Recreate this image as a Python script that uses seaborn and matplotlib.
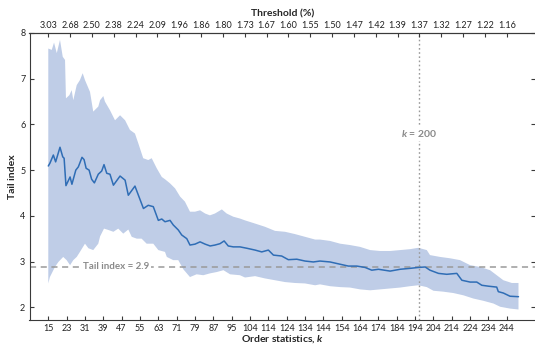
import numpy as np
import matplotlib
matplotlib.use("Agg")
import matplotlib.pyplot as plt
import seaborn as sns
import pandas as pd

# ---- data ----
# x = position along the order-statistics axis (0 -> k=15, 200 -> k=244)
mid_x = [0, 0.7, 2.2, 3.2, 5.1, 6.3, 6.9, 7.7, 9.5, 10.3, 12.0, 13.1, 14.7, 15.6, 16.5,
         17.8, 18.9, 20.1, 21.8, 23.3, 24.3, 25.5, 26.9, 28.4, 31.3, 33.5, 34.9, 37.8,
         39.3, 41.5, 43.6, 45.8, 48.0, 49.5, 50.9, 53.1, 54.5, 56.7, 58.2, 60.4, 61.8,
         64.0, 66.2, 68.4, 70.6, 72.7, 74.9, 76.7, 78.5, 80.7, 83.6, 86.6, 90.2, 93.1,
         96.0, 98.2, 101.8, 104.7, 108.4, 112.0, 115.6, 118.5, 122.9, 127.3, 130.9,
         134.6, 138.2, 141.1, 144.0, 149.1, 153.5, 157.8, 161.4, 164.4, 166.5, 170.2,
         173.8, 178.2, 180.4, 184.0, 186.9, 189.1, 192.0, 195.6, 196.3, 198.5, 201.4, 205.1]
mid_y = [5.09, 5.15, 5.33, 5.18, 5.50, 5.29, 5.26, 4.66, 4.85, 4.69, 5.00, 5.07, 5.28, 5.23,
         5.04, 5.00, 4.80, 4.72, 4.91, 4.98, 5.12, 4.93, 4.91, 4.67, 4.87, 4.78, 4.45, 4.65,
         4.45, 4.16, 4.23, 4.20, 3.90, 3.93, 3.87, 3.90, 3.80, 3.69, 3.58, 3.50, 3.36, 3.38,
         3.43, 3.38, 3.34, 3.36, 3.39, 3.45, 3.34, 3.32, 3.32, 3.29, 3.25, 3.21, 3.25, 3.14,
         3.12, 3.04, 3.05, 3.01, 2.99, 3.01, 2.99, 2.94, 2.90, 2.90, 2.87, 2.81, 2.83, 2.79,
         2.83, 2.85, 2.87, 2.88, 2.81, 2.74, 2.72, 2.74, 2.59, 2.55, 2.55, 2.48, 2.46, 2.44,
         2.34, 2.31, 2.24, 2.23]

upper_x = [0, 1.5, 2.5, 3.7, 5.1, 6.3, 7.3, 7.7, 9.2, 10.2, 10.9, 12.4, 13.8, 15.0, 16.0,
           18.2, 19.6, 21.8, 22.6, 24.0, 24.7, 26.9, 29.1, 31.3, 33.5, 35.6, 37.8, 39.3,
           41.4, 43.6, 45.1, 47.3, 49.5, 50.9, 53.1, 55.3, 57.5, 59.6, 61.8, 64.0, 66.2,
           68.4, 70.5, 72.7, 75.7, 77.8, 80.7, 83.6, 85.8, 90.2, 94.5, 98.9, 103.3, 107.6,
           112.0, 116.4, 118.5, 122.9, 127.3, 131.6, 136.0, 140.4, 144.7, 149.1, 153.5,
           157.8, 161.4, 165.1, 166.5, 170.9, 175.3, 179.6, 184.0, 188.4, 192.7, 195.6,
           198.5, 202.2, 205.1]
upper_y = [7.66, 7.63, 7.79, 7.56, 7.85, 7.48, 7.41, 6.57, 6.64, 6.75, 6.53, 6.86, 6.97,
           7.12, 6.97, 6.71, 6.28, 6.39, 6.53, 6.62, 6.50, 6.31, 6.09, 6.20, 6.09, 5.88,
           5.80, 5.58, 5.26, 5.22, 5.26, 5.04, 4.85, 4.80, 4.71, 4.60, 4.42, 4.31, 4.09,
           4.09, 4.12, 4.05, 4.01, 4.05, 4.14, 4.05, 3.98, 3.94, 3.90, 3.83, 3.76, 3.67,
           3.65, 3.60, 3.54, 3.48, 3.48, 3.45, 3.39, 3.36, 3.32, 3.25, 3.23, 3.23, 3.25,
           3.27, 3.30, 3.25, 3.14, 3.10, 3.07, 3.03, 2.92, 2.88, 2.81, 2.70, 2.59, 2.53, 2.53]

lower_x = [0, 0.7, 2.9, 4.4, 6.5, 8.0, 9.5, 10.9, 12.4, 13.8, 16.0, 17.5, 19.6, 21.8, 22.6,
           24.3, 26.2, 28.4, 30.5, 32.7, 34.9, 36.4, 38.6, 40.7, 42.9, 45.8, 48.0, 50.9,
           51.7, 54.5, 56.7, 58.9, 61.8, 64.7, 67.6, 70.5, 73.5, 76.4, 79.3, 83.6, 85.8,
           90.2, 94.5, 98.9, 103.3, 107.6, 112.0, 116.4, 118.5, 122.9, 127.3, 131.6, 136.0,
           140.4, 144.7, 149.1, 153.5, 157.8, 161.4, 165.1, 168.0, 172.3, 176.7, 181.1,
           185.4, 189.8, 194.2, 197.1, 201.4, 205.1]
lower_y = [2.52, 2.66, 2.88, 2.99, 3.10, 3.03, 2.92, 3.03, 3.10, 3.21, 3.39, 3.29, 3.25,
           3.39, 3.55, 3.72, 3.69, 3.65, 3.72, 3.61, 3.70, 3.54, 3.50, 3.50, 3.39, 3.39,
           3.25, 3.21, 3.10, 3.03, 3.03, 2.83, 2.66, 2.72, 2.70, 2.74, 2.77, 2.81, 2.72,
           2.70, 2.65, 2.68, 2.63, 2.59, 2.55, 2.53, 2.52, 2.48, 2.50, 2.46, 2.44, 2.43,
           2.39, 2.37, 2.39, 2.41, 2.43, 2.46, 2.48, 2.44, 2.36, 2.34, 2.31, 2.26, 2.19,
           2.14, 2.08, 2.01, 1.97, 1.95]

k_labels = [15, 23, 31, 39, 47, 55, 63, 71, 79, 87, 95, 104, 114, 124, 134, 144, 154,
            164, 174, 184, 194, 204, 214, 224, 234, 244]
threshold_labels = ["3.03", "2.68", "2.50", "2.38", "2.24", "2.09", "1.96", "1.86", "1.80",
                    "1.73", "1.67", "1.60", "1.55", "1.50", "1.47", "1.42", "1.39", "1.37",
                    "1.32", "1.27", "1.22", "1.16"]
tail_ref = 2.88
k_ref_pos = 161.6

# ---- style ----
sns.set_style("ticks")
FAM = "Lato"
plt.rcParams["font.family"] = [FAM, "DejaVu Sans"]
plt.rcParams["mathtext.fontset"] = "custom"
plt.rcParams["mathtext.it"] = FAM + ":bold:italic"
plt.rcParams["mathtext.rm"] = FAM + ":bold"

band_color = "#bfcde7"
line_color = "#2f6db5"
ref_gray = "#9a9a9a"
text_gray = "#8a8a8a"
axis_color = "#3a3a3a"

fig = plt.figure(figsize=(5.35, 3.44), dpi=100)
ax = fig.add_axes([29.5 / 535, 1 - 320 / 344, 1 - 29.5 / 535, (320 - 33) / 344])

# band
ax.fill(np.r_[upper_x, lower_x[::-1]], np.r_[upper_y, lower_y[::-1]],
        color=band_color, lw=0, zorder=1)

df = pd.DataFrame({"pos": mid_x, "tail": mid_y})
sns.lineplot(data=df, x="pos", y="tail", ax=ax, color=line_color, lw=1.1, zorder=3)

# reference lines
ax.axhline(tail_ref, color=ref_gray, lw=1.1, ls=(0, (4, 3)), zorder=2)
ax.axvline(k_ref_pos, color=ref_gray, lw=1.0, ls=(0, (1.2, 1.8)), zorder=2)
ax.text(29.5, tail_ref, "Tail index = 2.9", ha="center", va="center", fontsize=7,
        color=text_gray, fontweight="bold",
        bbox=dict(boxstyle="square,pad=0.15", fc="white", ec="none"), zorder=4)
ax.text(k_ref_pos, 5.79, "$k$ = 200", ha="center", va="center", fontsize=7.5,
        color=text_gray, fontweight="bold",
        bbox=dict(boxstyle="square,pad=0.1", fc="white", ec="none"), zorder=4)

ax.set_xlim(-8.2, 212.3)
ax.set_ylim(1.72, 8)
ax.set_yticks([2, 3, 4, 5, 6, 7, 8])
ax.set_xticks(np.linspace(0, 200, len(k_labels)))
ax.set_xticklabels([str(v) for v in k_labels])
ax.set_xlabel("Order statistics, $k$", fontsize=7.5, fontweight="bold", labelpad=0)
ax.set_ylabel("Tail index", fontsize=7.5, fontweight="bold", labelpad=2)

for s in ["left", "bottom", "top"]:
    ax.spines[s].set_visible(True)
    ax.spines[s].set_color(axis_color)
    ax.spines[s].set_linewidth(0.8)
ax.spines["right"].set_visible(False)
ax.tick_params(axis="both", labelsize=6.5, length=3, width=0.8, color=axis_color,
               labelcolor="#222222", direction="in")
ax.tick_params(axis="x", pad=3)
ax.tick_params(axis="y", pad=3, right=True)

ax2 = ax.twiny()
ax2.set_xlim(ax.get_xlim())
ax2.set_xticks(np.linspace(0, 200, len(threshold_labels)))
ax2.set_xticklabels(threshold_labels)
ax2.set_xlabel("Threshold (%)", fontsize=7.5, fontweight="bold", labelpad=3)
ax2.tick_params(axis="x", labelsize=6.5, length=3, width=0.8, color=axis_color,
                labelcolor="#222222", direction="in", pad=2.5)
for s in ["left", "bottom", "right"]:
    ax2.spines[s].set_visible(False)
ax2.spines["top"].set_color(axis_color)
ax2.spines["top"].set_linewidth(0.8)

fig.savefig("out.png", dpi=100)
